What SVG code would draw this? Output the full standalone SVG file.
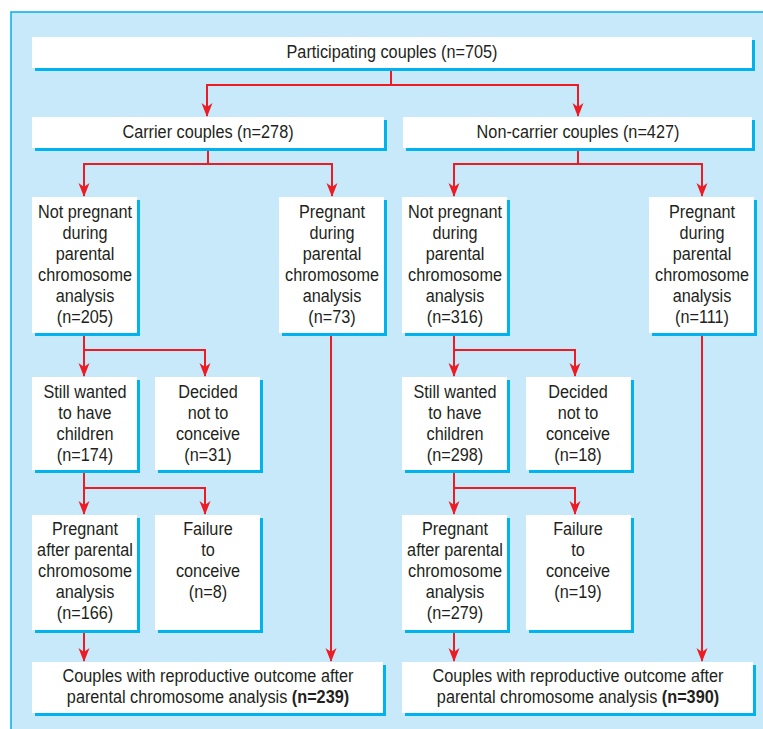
<svg xmlns="http://www.w3.org/2000/svg" width="763" height="729" viewBox="0 0 763 729">
<style>
.bg{fill:#c8e9f9;stroke:#00aeef;stroke-width:1.5}
.sh{fill:#00b2ee}
.bx{fill:#ffffff}
.t{font-family:"Liberation Sans",Arial,sans-serif;font-size:17.5px;fill:#231f20;text-anchor:middle}
.b{font-weight:bold}
.c{fill:none;stroke:#ed1c24;stroke-width:2}
</style>
<defs>
<marker id="ah" markerWidth="14" markerHeight="12" refX="13" refY="6" orient="auto" markerUnits="userSpaceOnUse" viewBox="0 0 14 12">
<path d="M0,0.5 L14,6 L0,11.5 L4,6 Z" fill="#ed1c24"/>
</marker>
</defs>
<rect class="bg" x="11" y="12" width="760" height="725"/>

<g id="connectors">
<path class="c" d="M391,68 V85 H207 V116" marker-end="url(#ah)"/>
<path class="c" d="M391,85 H578 V116" marker-end="url(#ah)"/>
<path class="c" d="M208,148 V164 H84 V196" marker-end="url(#ah)"/>
<path class="c" d="M208,164 H332 V196" marker-end="url(#ah)"/>
<path class="c" d="M578,148 V164 H454 V196" marker-end="url(#ah)"/>
<path class="c" d="M578,164 H702 V196" marker-end="url(#ah)"/>
<path class="c" d="M84,333 V376" marker-end="url(#ah)"/>
<path class="c" d="M84,350 H205 V376" marker-end="url(#ah)"/>
<path class="c" d="M454,333 V376" marker-end="url(#ah)"/>
<path class="c" d="M454,350 H575 V376" marker-end="url(#ah)"/>
<path class="c" d="M84,470 V514" marker-end="url(#ah)"/>
<path class="c" d="M84,488 H205 V514" marker-end="url(#ah)"/>
<path class="c" d="M454,470 V514" marker-end="url(#ah)"/>
<path class="c" d="M454,488 H575 V514" marker-end="url(#ah)"/>
<path class="c" d="M84,630 V661" marker-end="url(#ah)"/>
<path class="c" d="M454,630 V661" marker-end="url(#ah)"/>
<path class="c" d="M331,333 V661" marker-end="url(#ah)"/>
<path class="c" d="M702,333 V661" marker-end="url(#ah)"/>
</g>

<g id="n-participating">
<rect class="sh" x="35" y="40" width="720" height="31"/>
<rect class="bx" x="32" y="37" width="720" height="31"/>
<g transform="translate(392,0) scale(0.93,1)"><text class="t" x="0" y="58.5">Participating couples (n=705)</text></g>
</g>

<g id="n-carrier">
<rect class="sh" x="35" y="120" width="352" height="31"/>
<rect class="bx" x="32" y="117" width="352" height="31"/>
<g transform="translate(208,0) scale(0.93,1)"><text class="t" x="0" y="138.5">Carrier couples (n=278)</text></g>
</g>

<g id="n-noncarrier">
<rect class="sh" x="406" y="120" width="349" height="31"/>
<rect class="bx" x="403" y="117" width="349" height="31"/>
<g transform="translate(578,0) scale(0.93,1)"><text class="t" x="0" y="138.5">Non-carrier couples (n=427)</text></g>
</g>

<g id="n-c-notpreg">
<rect class="sh" x="35" y="200" width="105" height="136"/>
<rect class="bx" x="32" y="197" width="105" height="136"/>
<g transform="translate(85,0) scale(0.93,1)"><text class="t"><tspan x="0" y="218">Not pregnant</tspan><tspan x="0" y="239">during</tspan><tspan x="0" y="260">parental</tspan><tspan x="0" y="281">chromosome</tspan><tspan x="0" y="302">analysis</tspan><tspan x="0" y="323">(n=205)</tspan></text></g>
</g>

<g id="n-c-preg">
<rect class="sh" x="282" y="200" width="105" height="136"/>
<rect class="bx" x="279" y="197" width="105" height="136"/>
<g transform="translate(332,0) scale(0.93,1)"><text class="t"><tspan x="0" y="218">Pregnant</tspan><tspan x="0" y="239">during</tspan><tspan x="0" y="260">parental</tspan><tspan x="0" y="281">chromosome</tspan><tspan x="0" y="302">analysis</tspan><tspan x="0" y="323">(n=73)</tspan></text></g>
</g>

<g id="n-n-notpreg">
<rect class="sh" x="405" y="200" width="105" height="136"/>
<rect class="bx" x="402" y="197" width="105" height="136"/>
<g transform="translate(455,0) scale(0.93,1)"><text class="t"><tspan x="0" y="218">Not pregnant</tspan><tspan x="0" y="239">during</tspan><tspan x="0" y="260">parental</tspan><tspan x="0" y="281">chromosome</tspan><tspan x="0" y="302">analysis</tspan><tspan x="0" y="323">(n=316)</tspan></text></g>
</g>

<g id="n-n-preg">
<rect class="sh" x="652" y="200" width="105" height="136"/>
<rect class="bx" x="649" y="197" width="105" height="136"/>
<g transform="translate(702,0) scale(0.93,1)"><text class="t"><tspan x="0" y="218">Pregnant</tspan><tspan x="0" y="239">during</tspan><tspan x="0" y="260">parental</tspan><tspan x="0" y="281">chromosome</tspan><tspan x="0" y="302">analysis</tspan><tspan x="0" y="323">(n=111)</tspan></text></g>
</g>

<g id="n-c-still">
<rect class="sh" x="35" y="380" width="105" height="93"/>
<rect class="bx" x="32" y="377" width="105" height="93"/>
<g transform="translate(85,0) scale(0.93,1)"><text class="t"><tspan x="0" y="398">Still wanted</tspan><tspan x="0" y="419">to have</tspan><tspan x="0" y="440">children</tspan><tspan x="0" y="461">(n=174)</tspan></text></g>
</g>

<g id="n-c-decided">
<rect class="sh" x="158" y="380" width="105" height="93"/>
<rect class="bx" x="155" y="377" width="105" height="93"/>
<g transform="translate(208,0) scale(0.93,1)"><text class="t"><tspan x="0" y="398">Decided</tspan><tspan x="0" y="419">not to</tspan><tspan x="0" y="440">conceive</tspan><tspan x="0" y="461">(n=31)</tspan></text></g>
</g>

<g id="n-n-still">
<rect class="sh" x="405" y="380" width="105" height="93"/>
<rect class="bx" x="402" y="377" width="105" height="93"/>
<g transform="translate(455,0) scale(0.93,1)"><text class="t"><tspan x="0" y="398">Still wanted</tspan><tspan x="0" y="419">to have</tspan><tspan x="0" y="440">children</tspan><tspan x="0" y="461">(n=298)</tspan></text></g>
</g>

<g id="n-n-decided">
<rect class="sh" x="529" y="380" width="105" height="93"/>
<rect class="bx" x="526" y="377" width="105" height="93"/>
<g transform="translate(578,0) scale(0.93,1)"><text class="t"><tspan x="0" y="398">Decided</tspan><tspan x="0" y="419">not to</tspan><tspan x="0" y="440">conceive</tspan><tspan x="0" y="461">(n=18)</tspan></text></g>
</g>

<g id="n-c-pregafter">
<rect class="sh" x="35" y="518" width="105" height="115"/>
<rect class="bx" x="32" y="515" width="105" height="115"/>
<g transform="translate(85,0) scale(0.93,1)"><text class="t"><tspan x="0" y="535">Pregnant</tspan><tspan x="0" y="556">after parental</tspan><tspan x="0" y="577">chromosome</tspan><tspan x="0" y="598">analysis</tspan><tspan x="0" y="619">(n=166)</tspan></text></g>
</g>

<g id="n-c-failure">
<rect class="sh" x="158" y="518" width="105" height="115"/>
<rect class="bx" x="155" y="515" width="105" height="115"/>
<g transform="translate(208,0) scale(0.93,1)"><text class="t"><tspan x="0" y="535">Failure</tspan><tspan x="0" y="556">to</tspan><tspan x="0" y="577">conceive</tspan><tspan x="0" y="598">(n=8)</tspan></text></g>
</g>

<g id="n-n-pregafter">
<rect class="sh" x="405" y="518" width="105" height="115"/>
<rect class="bx" x="402" y="515" width="105" height="115"/>
<g transform="translate(455,0) scale(0.93,1)"><text class="t"><tspan x="0" y="535">Pregnant</tspan><tspan x="0" y="556">after parental</tspan><tspan x="0" y="577">chromosome</tspan><tspan x="0" y="598">analysis</tspan><tspan x="0" y="619">(n=279)</tspan></text></g>
</g>

<g id="n-n-failure">
<rect class="sh" x="529" y="518" width="105" height="115"/>
<rect class="bx" x="526" y="515" width="105" height="115"/>
<g transform="translate(578,0) scale(0.93,1)"><text class="t"><tspan x="0" y="535">Failure</tspan><tspan x="0" y="556">to</tspan><tspan x="0" y="577">conceive</tspan><tspan x="0" y="598">(n=19)</tspan></text></g>
</g>

<g id="n-c-outcome">
<rect class="sh" x="35" y="665" width="351" height="51"/>
<rect class="bx" x="32" y="662" width="351" height="51"/>
<g transform="translate(208,0) scale(0.93,1)"><text class="t"><tspan x="0" y="682">Couples with reproductive outcome after</tspan><tspan x="0" y="703">parental chromosome analysis <tspan class="b">(n=239)</tspan></tspan></text></g>
</g>

<g id="n-n-outcome">
<rect class="sh" x="405" y="665" width="351" height="51"/>
<rect class="bx" x="402" y="662" width="351" height="51"/>
<g transform="translate(578,0) scale(0.93,1)"><text class="t"><tspan x="0" y="682">Couples with reproductive outcome after</tspan><tspan x="0" y="703">parental chromosome analysis <tspan class="b">(n=390)</tspan></tspan></text></g>
</g>
</svg>
